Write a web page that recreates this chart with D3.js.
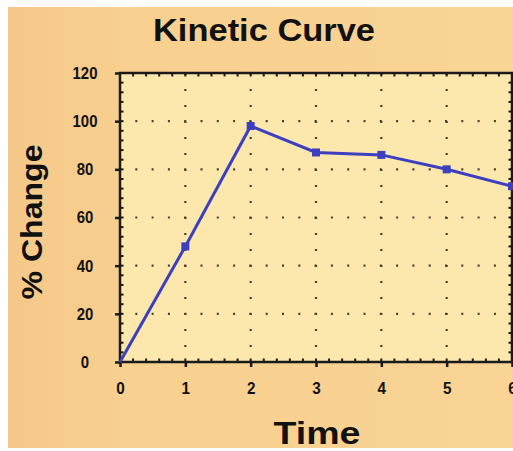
<!DOCTYPE html>
<html><head><meta charset="utf-8">
<script src="https://cdn.jsdelivr.net/npm/d3@7"></script>
<style>html,body{margin:0;padding:0;background:#fff;}svg{display:block;}</style>
</head><body>
<svg id="c" width="513" height="451"></svg>
<script>
const times = [0, 1, 2, 3, 4, 5, 6];
const pctChange = [0, 48, 98, 87, 86, 80, 73];
const xTicks = [0, 1, 2, 3, 4, 5, 6];
const yTicks = [0, 20, 40, 60, 80, 100, 120];

const svg = d3.select("#c");
const W = 513, H = 451;
const defs = svg.append("defs");
const g1 = defs.append("linearGradient").attr("id","bg").attr("x1","0").attr("x2","1").attr("y1","0").attr("y2","0");
g1.append("stop").attr("offset","0").attr("stop-color","#f5c889");
g1.append("stop").attr("offset","0.25").attr("stop-color","#f8d090");
g1.append("stop").attr("offset","1").attr("stop-color","#f9d494");

svg.append("rect").attr("x",8).attr("y",7).attr("width",W-8).attr("height",H-10).attr("fill","url(#bg)");

const m = {left:120, right:512, top:73, bottom:362};
const x = d3.scaleLinear().domain([0,6]).range([m.left, m.right]);
const y = d3.scaleLinear().domain([0,120]).range([m.bottom, m.top]);

svg.append("rect").attr("x",m.left).attr("y",m.top).attr("width",m.right-m.left).attr("height",m.bottom-m.top).attr("fill","#fce7ad");

// grid
const grid = svg.append("g").attr("stroke","#4a4030").attr("stroke-width",2.2);
yTicks.filter(d=>d>0&&d<120).forEach(d=>{
  grid.append("line").attr("x1",m.left).attr("x2",m.right).attr("y1",y(d)).attr("y2",y(d))
    .attr("stroke-dasharray","2,14.3").attr("stroke-dashoffset",-15.3);
});
xTicks.filter(d=>d>0&&d<6).forEach(d=>{
  grid.append("line").attr("x1",x(d)).attr("x2",x(d)).attr("y1",m.bottom).attr("y2",m.top)
    .attr("stroke-dasharray","2,14").attr("stroke-dashoffset",-15);
});

// frame
svg.append("rect").attr("x",m.left).attr("y",m.top).attr("width",m.right-m.left).attr("height",m.bottom-m.top)
  .attr("fill","none").attr("stroke","#1a1a1a").attr("stroke-width",2.5);

// axes
const fontTick = "'Liberation Sans', Arial, sans-serif";
const xAxis = d3.axisBottom(x).tickValues(xTicks).tickFormat(d3.format("d")).tickSize(5).tickPadding(15);
const gx = svg.append("g").attr("transform",`translate(0,${m.bottom})`).call(xAxis);
const yAxis = d3.axisLeft(y).tickValues(yTicks).tickFormat(d3.format("d")).tickSize(5).tickPadding(9);
const gy = svg.append("g").attr("transform",`translate(${m.left},0)`).call(yAxis);
[gx,gy].forEach(g=>{
  g.select(".domain").remove();
  g.selectAll(".tick line").attr("stroke","#1a1a1a").attr("stroke-width",2.5);
  g.selectAll(".tick text").attr("fill","#111").attr("font-family",fontTick).attr("font-weight","bold").attr("font-size",17);
});
gy.selectAll(".tick text").attr("text-anchor","middle").attr("x",-35)
  .attr("textLength",d=>String(d).length*8.3).attr("lengthAdjust","spacingAndGlyphs");
gx.selectAll(".tick text").attr("textLength",8.5).attr("lengthAdjust","spacingAndGlyphs");

// minor ticks
const minor = svg.append("g").attr("stroke","#1a1a1a").attr("stroke-width",2);
d3.range(0,6.001,0.2).forEach(v=>{
  minor.append("line").attr("x1",x(v)).attr("x2",x(v)).attr("y1",m.bottom).attr("y2",m.bottom-3.5);
  minor.append("line").attr("x1",x(v)).attr("x2",x(v)).attr("y1",m.top).attr("y2",m.top+3.5);
});
d3.range(0,120.001,4).forEach(v=>{
  minor.append("line").attr("x1",m.left).attr("x2",m.left+3.5).attr("y1",y(v)).attr("y2",y(v));
  minor.append("line").attr("x1",m.right).attr("x2",m.right-3.5).attr("y1",y(v)).attr("y2",y(v));
});

// line
const data = times.map((t,i)=>({t, v:pctChange[i]}));
svg.append("path").datum(data)
  .attr("d", d3.line().x(d=>x(d.t)).y(d=>y(d.v)))
  .attr("fill","none").attr("stroke","#3c3fbf").attr("stroke-width",3);
svg.append("g").selectAll("rect").data(data.slice(1)).join("rect")
  .attr("x",d=>x(d.t)-4).attr("y",d=>y(d.v)-4).attr("width",8).attr("height",8)
  .attr("fill","#3c3fbf");

// titles
svg.append("text").attr("x",264).attr("y",41).attr("text-anchor","middle")
  .attr("font-family",fontTick).attr("font-weight","bold").attr("font-size",32).attr("fill","#111")
  .attr("textLength",222).attr("lengthAdjust","spacingAndGlyphs")
  .text("Kinetic Curve");
svg.append("text").attr("transform","translate(42,222) rotate(-90)").attr("text-anchor","middle")
  .attr("font-family",fontTick).attr("font-weight","bold").attr("font-size",30).attr("fill","#111")
  .attr("textLength",155).attr("lengthAdjust","spacingAndGlyphs")
  .text("% Change");
svg.append("text").attr("x",317).attr("y",444).attr("text-anchor","middle")
  .attr("font-family",fontTick).attr("font-weight","bold").attr("font-size",32).attr("fill","#111")
  .attr("textLength",87).attr("lengthAdjust","spacingAndGlyphs")
  .text("Time");
</script>
</body></html>
